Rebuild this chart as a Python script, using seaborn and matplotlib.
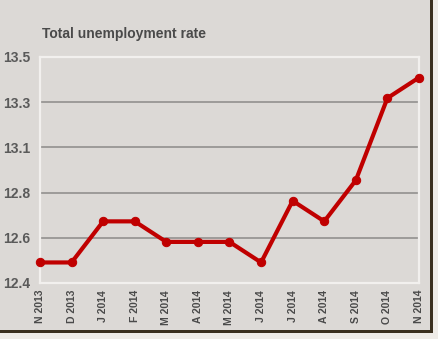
import numpy as np
import pandas as pd
import matplotlib
matplotlib.use("Agg")
import matplotlib.pyplot as plt
from matplotlib.patches import Rectangle
import seaborn as sns

# data
months = ["N 2013", "D 2013", "J 2014", "F 2014", "M 2014", "A 2014", "M 2014",
          "J 2014", "J 2014", "A 2014", "S 2014", "O 2014", "N 2014"]
rate = [12.5, 12.5, 12.7, 12.7, 12.6, 12.6, 12.6, 12.5, 12.8, 12.7, 12.9, 13.3, 13.4]
y_ticks = [12.4, 12.62, 12.84, 13.06, 13.28, 13.5]
y_labels = ["12.4", "12.6", "12.8", "13.1", "13.3", "13.5"]

df = pd.DataFrame({"idx": np.arange(len(months)), "rate": rate})

sns.set_theme(style="white")
plt.rcParams['font.family'] = ['Liberation Sans', 'DejaVu Sans']

bg = "#dcd9d6"
fig = plt.figure(figsize=(4.39, 3.39), dpi=100, facecolor=bg)
ax = fig.add_axes([40 / 439, 1 - 283 / 339, 379 / 439, 226 / 339])
ax.set_facecolor(bg)

for t in y_ticks[1:-1]:
    ax.axhline(t, color="#8c8a88", lw=1.1, zorder=1)

sns.lineplot(data=df, x="idx", y="rate", ax=ax, color="#c00000", lw=3.0,
             marker="o", markersize=6, markeredgecolor="#c00000",
             clip_on=False, zorder=3)

ax.set_xlim(0, len(months) - 1)
ax.set_ylim(12.4, 13.5)
ax.set_xticks(df["idx"])
ax.set_xticklabels(months, rotation=90, fontsize=7.5, fontweight="bold",
                   color="#4a4a4a")
ax.set_yticks(y_ticks)
ax.set_yticklabels(y_labels, fontsize=10, fontweight="bold", color="#5a5a5a")
ax.tick_params(axis="x", length=0, pad=5)
ax.tick_params(axis="y", length=0, pad=7)
ax.set_xlabel("")
ax.set_ylabel("")
for s in ax.spines.values():
    s.set_color("#f2f0ee")
    s.set_linewidth(1.6)

fig.text(42 / 439, 1 - 34 / 339, "Total unemployment rate", fontsize=10,
         fontweight="bold", color="#4a4a4a", va="center", ha="left")

# picture frame shadow on right and bottom
fig.patches.append(Rectangle((430 / 439, 0), 9 / 439, 1, transform=fig.transFigure,
                             facecolor="#efece8", edgecolor="none", zorder=0))
fig.patches.append(Rectangle((0, 0), 1, 6 / 339, transform=fig.transFigure,
                             facecolor="#efece8", edgecolor="none", zorder=0))
fig.patches.append(Rectangle((430 / 439, 6 / 339), 3 / 439, 1, transform=fig.transFigure,
                             facecolor="#3b3020", edgecolor="none", zorder=0))
fig.patches.append(Rectangle((0, 6 / 339), 433 / 439, 3 / 339, transform=fig.transFigure,
                             facecolor="#3b3020", edgecolor="none", zorder=0))

fig.savefig("out.png", dpi=100, facecolor=bg)
